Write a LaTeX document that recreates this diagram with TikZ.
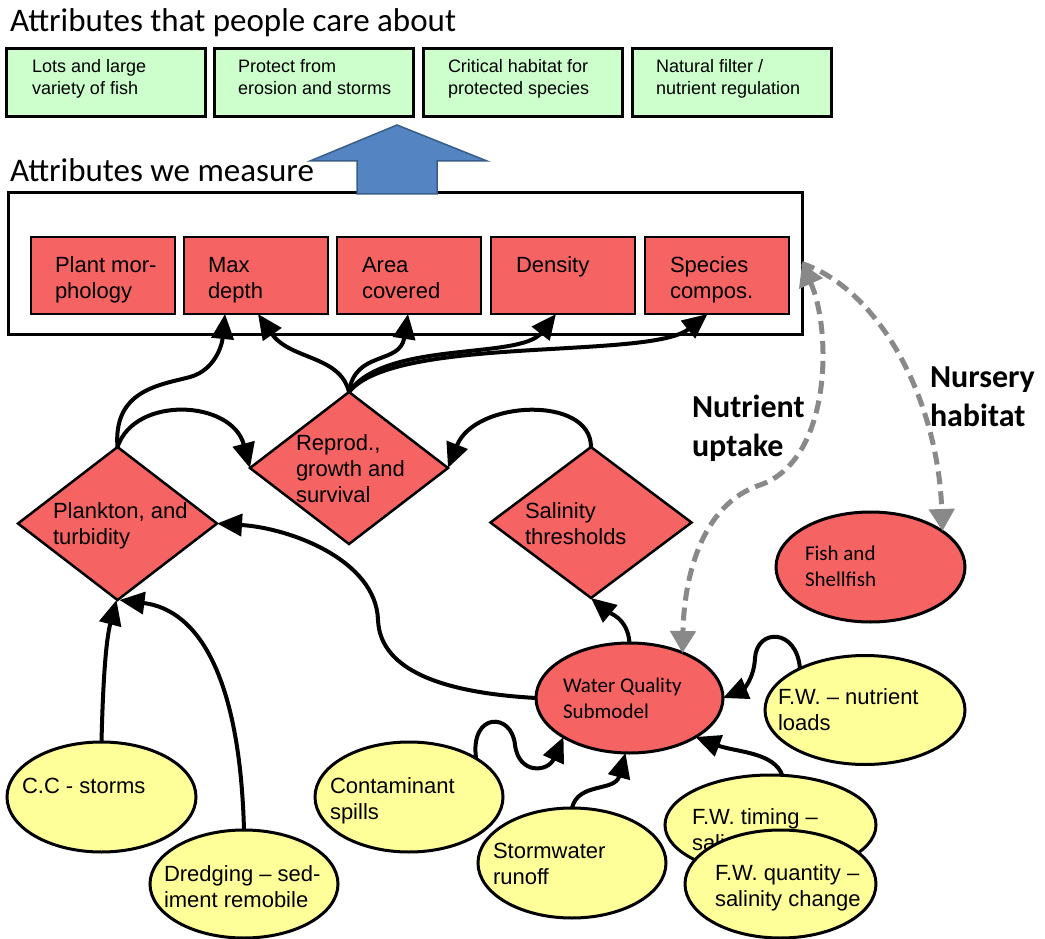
\documentclass[tikz,border=0pt]{standalone}
\usepackage{fontspec}
\setmainfont{Liberation Sans}
\newfontfamily\carl{Carlito}
\usetikzlibrary{shapes.geometric,arrows.meta,calc}
\definecolor{rd}{RGB}{246,99,99}
\definecolor{yl}{RGB}{255,255,153}
\definecolor{gr}{RGB}{204,255,204}
\definecolor{bl}{RGB}{84,133,194}
\definecolor{bld}{RGB}{56,93,138}
\definecolor{gy}{RGB}{137,137,137}
\newcommand\fA{\fontsize{22}{26}\selectfont}
\newcommand\fG{\fontsize{18}{22}\selectfont}
\newcommand\fT{\carl\fontsize{33}{40}\selectfont}
\newcommand\fC{\carl\fontsize{21}{26}\selectfont}
\newcommand\fBd{\carl\bfseries\fontsize{32}{39}\selectfont}
\begin{document}
\begin{tikzpicture}[x=1pt,y=-1pt,
  shp/.style={draw, line width=2.5, inner sep=0, outer sep=0},
  gbox/.style={shp, line width=3, rectangle, fill=gr, minimum width=199, minimum height=68},
  rbox/.style={shp, line width=2, rectangle, fill=rd, minimum width=144, minimum height=77},
  dia/.style={shp, diamond, fill=rd},
  ell/.style={shp, ellipse, line width=3},
  tx/.style={anchor=north west, inner sep=0, outer sep=0, align=left},
  con/.style={line width=4, -{Triangle[length=25pt,width=22pt]}},
  gcon/.style={draw=gy, line width=5, dash pattern=on 13pt off 7pt, -{Triangle[length=22pt,width=25pt]}}]
\useasboundingbox (0,0) rectangle (1045,939);
% titles
\node[tx, font=\fT] (t1) at (10,4) {\strut Attributes that people care about};
\node[tx, font=\fT] (t2) at (10,154) {\strut Attributes we measure};
% green boxes
\node[gbox] (g1) at (105.5,83) {};
\node[gbox] (g2) at (313.5,83) {};
\node[gbox] (g3) at (522.5,83) {};
\node[gbox] (g4) at (731.5,83) {};
\node[tx, font=\fG] (g1t) at (32,57.6) {\strut Lots and large\\variety of fish};
\node[tx, font=\fG] (g2t) at (238,57.6) {\strut Protect from\\erosion and storms};
\node[tx, font=\fG] (g3t) at (448,57.6) {\strut Critical habitat for\\protected species};
\node[tx, font=\fG] (g4t) at (656,57.6) {\strut Natural filter /\\nutrient regulation};
% measure box
\node[shp, line width=3, fill=white, minimum width=794, minimum height=142] (mbox) at (405,263.5) {};
\node[rbox] (plm) at (102.5,275.5) {};
\node[rbox] (mxd) at (256,275.5) {};
\node[rbox] (arc) at (409,275.5) {};
\node[rbox] (dns) at (563,275.5) {};
\node[rbox] (spc) at (716.5,275.5) {};
\node[tx, font=\fA] (plmt) at (55,253.8) {\strut Plant mor-\\phology};
\node[tx, font=\fA] (mxdt) at (208,253.8) {\strut Max\\depth};
\node[tx, font=\fA] (arct) at (362,253.8) {\strut Area\\covered};
\node[tx, font=\fA] (dnst) at (516,253.8) {\strut Density};
\node[tx, font=\fA] (spct) at (670,253.8) {\strut Species\\compos.};
% blue arrow
\coordinate (btip) at (397,125);
\filldraw[fill=bl, draw=bld, line width=1.5] (btip) -- (487,161) -- (437,161) -- (437,194) -- (357,194) -- (357,161) -- (310,161) -- cycle;
% diamonds
\node[dia, minimum width=199, minimum height=153] (pl) at (117.5,523.5) {};
\node[dia, minimum width=198, minimum height=152] (rp) at (349,468) {};
\node[dia, minimum width=201, minimum height=151] (sa) at (591,522.5) {};
\node[tx, font=\fA] (plt) at (53,499.8) {\strut Plankton, and\\turbidity};
\node[tx, font=\fA] (rpt) at (296,431.8) {\strut Reprod.,\\growth and\\survival};
\node[tx, font=\fA] (sat) at (525,499.8) {\strut Salinity\\thresholds};
% ellipses
\node[ell, fill=rd, minimum width=189, minimum height=110] (fish) at (870.5,567) {};
\node[tx, font=\fC] (fisht) at (805,541.8) {\strut Fish and\\Shellfish};
\node[ell, fill=rd, minimum width=187, minimum height=110] (wq) at (629.5,698) {};
\node[tx, font=\fC] (wqt) at (563,673.8) {\strut Water Quality\\Submodel};
\node[ell, fill=yl, minimum width=200, minimum height=109] (fwn) at (865,710) {};
\node[tx, font=\fA] (fwnt) at (778,685.8) {\strut F.W. -- nutrient\\loads};
\node[ell, fill=yl, minimum width=189, minimum height=110] (cc) at (101.5,797) {};
\node[tx, font=\fA] (cct) at (22,774.8) {\strut C.C - storms};
\node[ell, fill=yl, minimum width=188, minimum height=108] (dr) at (244,884) {};
\node[tx, font=\fA] (drt) at (164,862.8) {\strut Dredging -- sed-\\iment remobile};
\node[ell, fill=yl, minimum width=188, minimum height=110] (ct) at (409,797) {};
\node[tx, font=\fA] (ctt) at (330,774.8) {\strut Contaminant\\spills};
\node[ell, fill=yl, minimum width=188, minimum height=110] (sw) at (572,863) {};
\node[tx, font=\fA] (swt) at (493,839.8) {\strut Stormwater\\runoff};
\node[ell, fill=yl, minimum width=211, minimum height=100] (fwt) at (770.5,825) {};
\node[tx, font=\fA] (fwtt) at (692,805.8) {\strut F.W. timing --\\salinity change};
\node[ell, fill=yl, minimum width=191, minimum height=108] (fwq) at (780.5,884) {};
\node[tx, font=\fA] (fwqt) at (715,861.8) {\strut F.W. quantity --\\salinity change};
% labels
\node[tx, font=\fBd] (nu) at (692,389.7) {\strut Nutrient\\uptake};
\node[tx, font=\fBd] (ns) at (930,359.7) {\strut Nursery\\habitat};
% connectors
\draw[con] (pl.north) .. controls (113,390) and (160,385) .. (190,377) .. controls (215,370) and (222,345) .. ($(mxd.south)+(-31,0)$);
\draw[con] (pl.north) .. controls (135,395) and (232,400) .. (rp.west);
\draw[con] (rp.north) .. controls (340,355) and (290,360) .. ($(mxd.south)+(2,0)$);
\draw[con] (rp.north) .. controls (355,350) and (400,365) .. ($(arc.south)+(-1,0)$);
\draw[con] (rp.north) .. controls (385,340) and (520,360) .. ($(dns.south)+(-7,0)$);
\draw[con] (rp.north) .. controls (395,335) and (650,360) .. ($(spc.south)+(-9,0)$);
\draw[con] (sa.north) .. controls (591,395) and (475,400) .. (rp.east);
\draw[con] (wq.west) .. controls (430,692) and (380,665) .. (378,620) .. controls (376,560) and (290,528) .. (pl.east);
\draw[con] (wq.north) .. controls (628,618) and (608,612) .. (sa.south);
\draw[con] (cc.north) .. controls (103,680) and (106,640) .. ($(pl.south)+(-1,0)$);
\draw[con] (dr.north) .. controls (240,680) and (200,610) .. ($(pl.south)+(2,0)$);
\draw[con] ($(ct.center)+(67,-39)$) .. controls (470,712) and (512,712) .. (515,745) .. controls (519,775) and (548,772) .. ($(wq.center)+(-66,39)$);
\draw[con] (sw.north) .. controls (578,782) and (615,792) .. ($(wq.south)+(-4,0)$);
\draw[con] ($(fwt.center)+(12,-49)$) .. controls (775,752) and (735,752) .. ($(wq.center)+(66,39)$);
\draw[con] ($(fwn.center)+(-65,-41)$) .. controls (797,628) and (757,628) .. (755,658) .. controls (754,680) and (742,690) .. (wq.east);
\draw[gcon, {Triangle[length=22pt,width=25pt]}-{Triangle[length=22pt,width=25pt]}] (mbox.east) .. controls (832,330) and (832,460) .. (760,485) .. controls (700,505) and (684,580) .. ($(wq.center)+(53,-45)$);
\draw[gcon] (mbox.east) .. controls (880,290) and (938,400) .. ($(fish.center)+(72,-36)$);
\end{tikzpicture}
\end{document}
